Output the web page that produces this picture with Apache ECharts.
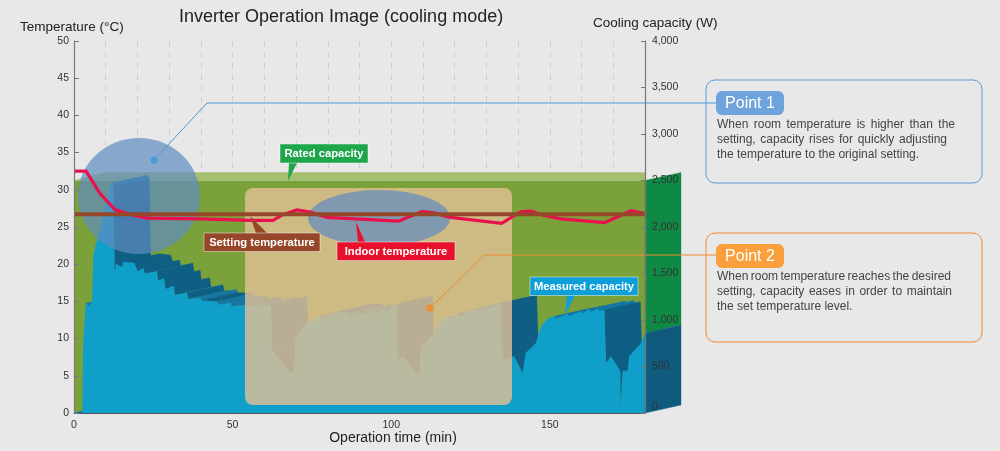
<!DOCTYPE html>
<html>
<head>
<meta charset="utf-8">
<style>
  html, body { margin: 0; padding: 0; background: #e8e8e8; }
  #chart { width: 1000px; height: 451px; }
</style>
<script src="https://cdn.jsdelivr.net/npm/echarts@6/dist/echarts.min.js"></script>
</head>
<body>
<div id="chart"></div>
<script>
  const xTicks = [0, 50, 100, 150]
  const ratedTimes = [0, 180]
  const ratedWatts = [2500, 2500]
  const settingTimes = [0, 180]
  const settingTemps = [26.7, 26.7]
  const indoorTimes = [0, 3.8, 8.2, 13, 18.7, 23, 40, 55.6, 62.7, 66, 70.3, 74.5, 79.8, 84, 102.4, 109.8, 113.4, 118.7, 134.8, 140.8, 144, 148, 153.4, 167.4, 175.6, 180]
  const indoorTemps = [32.5, 32.5, 29.5, 27.3, 26.6, 26.2, 26.1, 25.9, 25.9, 26.7, 27.3, 27, 26.3, 26.2, 25.8, 27.1, 26.9, 26.3, 25.5, 27.05, 27.15, 26.6, 26.1, 25.6, 27.2, 26.8]
  const measuredTimes = [
    0, 2.6, 2.9, 3.7, 4.6, 5.7, 6.1, 6.7, 8.2, 9.8, 11.6, 12.4,
    12.8, 13.3, 15.2, 15.5, 19.1, 20, 21.9, 22.3, 26.1, 26.5, 28.4, 28.8, 31.4, 31.8,
    35.6, 36, 39.8, 40.2, 45.1, 45.5, 49.3, 49.7, 54, 54.5, 58.7, 59.3, 62.1, 62.4,
    64, 68.2, 69.3, 69.8, 73.5, 77.7, 78.2, 81.9, 82.4, 84,
    86.1, 86.6, 89.3, 89.8, 94.5, 95.1, 98.2, 98.7, 101.7, 102.1, 104, 108.7, 109.3,
    113.3, 115.6, 117.7, 118.2, 120.8, 121.4, 126.1, 126.6, 130.3, 130.8, 134.5, 135.1,
    138.7, 141.4, 142.4, 145.6, 147.2, 149.5, 151.4, 151.9, 155.6, 156.1, 159.8, 160.3,
    162.4, 162.9, 165.1, 165.6, 167.2, 167.7, 169.3, 172.2, 172.3, 172.9, 174.5, 175, 178.7, 180,
  ]
  const measuredWatts = [
    0, 0, 750, 1180, 1150, 1195, 1685, 1790, 1970, 2185, 2470, 2435,
    1523, 1605, 1569, 1627, 1612, 1523, 1559, 1498, 1523, 1426, 1448, 1333, 1369, 1268,
    1290, 1225, 1240, 1211, 1200, 1164, 1182, 1147, 1161, 1132, 1164, 1136, 1164, 681,
    609, 437, 437, 824, 967, 1039, 1010, 1082, 1053, 1093,
    1075, 1039, 1082, 1046, 1104, 1068, 1125, 1089, 1175, 573, 609, 394, 717,
    853, 996, 1032, 1003, 1068, 1032, 1118, 1082, 1147, 1111, 1182, 573,
    609, 430, 645, 752, 932, 1021, 1039, 1010, 1068, 1039, 1093, 1068,
    1118, 1082, 1125, 1093, 1111, 537, 610, 450, 70, 450, 450, 610, 750, 860,
  ]

  const pairs = (xs, ys) => xs.map((x, i) => [x, ys[i]])

  // offset of the 3D extrusion on screen
  const depthX = 36
  const depthY = -8

  const polygon = (points, fill) => ({
    type: 'polygon',
    shape: { points },
    style: { fill, stroke: fill, lineWidth: 0.4 },
  })
  const shifted = (p) => [p[0] + depthX, p[1] + depthY]

  const renderBand = (params, api) => {
    if (params.dataIndex !== 0) return null
    const a = api.coord([ratedTimes[0], ratedWatts[0]])
    const b = api.coord([ratedTimes[1], ratedWatts[1]])
    return polygon([a, [a[0] + 32, a[1] + depthY], [b[0], b[1] + depthY], b], '#a4c06e')
  }

  const renderRibbon = (params, api) => {
    const i = params.dataIndex
    if (i >= measuredTimes.length - 1) return null
    const p = api.coord([measuredTimes[i], measuredWatts[i]])
    const q = api.coord([measuredTimes[i + 1], measuredWatts[i + 1]])
    const sx = q[0] - p[0]
    const sy = q[1] - p[1]
    if (sx * depthY - sy * depthX >= 0) return null
    // big drops and long falls are the dark faces, small teeth keep the lighter colour
    const dark = sy > 4 || (sy > 0 && sx > 3)
    return polygon([p, q, shifted(q), shifted(p)], dark ? '#0f5f85' : '#1476a3')
  }

  const renderSide = (params, api) => {
    if (params.dataIndex !== 0) return null
    const end = measuredTimes.length - 1
    const top = api.coord([ratedTimes[1], ratedWatts[1]])
    const mid = api.coord([measuredTimes[end], measuredWatts[end]])
    const low = api.coord([measuredTimes[end], 0])
    return {
      type: 'group',
      children: [
        polygon([top, shifted(top), shifted(mid), mid], '#0f8a45'),
        polygon([mid, shifted(mid), shifted(low), low], '#0f5a7d'),
      ],
    }
  }

  const font = 'Liberation Sans, Arial, sans-serif'
  const text = (x, y, str, size, fill, weight, align) => ({
    type: 'text',
    z: 7,
    silent: true,
    style: {
      x,
      y,
      text: str,
      fill,
      font: `${weight || 'normal'} ${size}px ${font}`,
      textAlign: align || 'left',
      textVerticalAlign: 'middle',
    },
  })

  // the note paragraphs in the picture are justified, so words get placed one by one
  const measure = document.createElement('canvas').getContext('2d')
  const justified = (x, y, str, width, size, fill) => {
    if (!width) return [text(x, y, str, size, fill)]
    measure.font = `${size}px ${font}`
    const words = str.split(' ')
    const used = words.reduce((sum, w) => sum + measure.measureText(w).width, 0)
    const gap = (width - used) / (words.length - 1)
    let cur = x
    return words.map((w) => {
      const el = text(cur, y, w, size, fill)
      cur += measure.measureText(w).width + gap
      return el
    })
  }

  const tag = (x, y, w, h, fill, str, tip) => [
    { type: 'polygon', z: 6, silent: true, shape: { points: tip }, style: { fill } },
    { type: 'rect', z: 6, silent: true, shape: { x, y, width: w, height: h }, style: { fill, stroke: 'rgba(255,255,255,0.45)', lineWidth: 1 } },
    text(x + w / 2, y + h / 2 + 0.5, str, 11.2, '#fff', 'bold', 'center'),
  ]
  const point = (y, h, stroke, pill, label, lines, widths, lineY) => [
    { type: 'rect', z: 6, silent: true, shape: { x: 706, y, width: 276, height: h, r: 9 }, style: { fill: 'none', stroke, lineWidth: 1 } },
    { type: 'rect', z: 6, silent: true, shape: { x: 716, y: y + 11, width: 68, height: 24, r: 6 }, style: { fill: pill } },
    text(750, y + 23.5, label, 16, '#fff', 'normal', 'center'),
    ...lines.flatMap((l, i) => justified(717, lineY + i * 14.7, l, widths[i], 12, '#444')),
  ]
  const leader = (dot, knee, y, stroke) => [
    { type: 'polyline', z: 6, silent: true, shape: { points: [dot, knee, [716, y]] }, style: { fill: 'none', stroke, lineWidth: 1 } },
    { type: 'circle', z: 6, silent: true, shape: { cx: dot[0], cy: dot[1], r: 3.5 }, style: { fill: stroke } },
  ]

  const chart = echarts.init(document.getElementById('chart'))
  chart.setOption({
    animation: false,
    backgroundColor: '#e8e8e8',
    grid: { left: 74, right: 355, top: 41, bottom: 38 },
    xAxis: {
      type: 'value',
      min: 0,
      max: 180,
      interval: 10,
      axisLine: { onZero: false, lineStyle: { color: '#555', width: 1.2 } },
      axisTick: { show: false },
      axisLabel: {
        color: '#333',
        fontSize: 10.5,
        fontFamily: font,
        margin: 7,
        formatter: (v) => (xTicks.includes(v) ? String(v) : ''),
      },
      splitLine: { show: true, lineStyle: { color: '#d2d2d2', type: [6, 5], width: 1 } },
    },
    yAxis: [
      {
        type: 'value',
        min: 0,
        max: 50,
        interval: 5,
        z: 8,
        axisLine: { show: true, lineStyle: { color: '#777', width: 1.2 } },
        axisTick: { show: true, inside: true, length: 5, lineStyle: { color: '#777' } },
        axisLabel: { color: '#333', fontSize: 10.5, fontFamily: font, margin: 5 },
        splitLine: { show: false },
      },
      {
        type: 'value',
        min: 0,
        max: 4000,
        interval: 500,
        position: 'right',
        z: 8,
        axisLine: { show: true, lineStyle: { color: '#777', width: 1.2 } },
        axisTick: { show: true, inside: true, length: 4, lineStyle: { color: '#777' } },
        axisLabel: {
          color: '#333',
          fontSize: 10.5,
          fontFamily: font,
          margin: 7,
          formatter: (v) => (v === 0 ? '{zero|0}' : v.toLocaleString('en-US')),
          rich: { zero: { color: '#333', fontSize: 10.5, fontFamily: font, padding: [0, 0, 12, 0] } },
        },
        splitLine: { show: false },
      },
    ],
    series: [
      {
        name: 'Rated capacity',
        type: 'line',
        yAxisIndex: 1,
        z: 1,
        showSymbol: false,
        lineStyle: { width: 0 },
        areaStyle: { color: '#7ba23a', opacity: 1 },
        data: pairs(ratedTimes, ratedWatts),
      },
      {
        name: 'Rated top',
        type: 'custom',
        yAxisIndex: 1,
        z: 1,
        renderItem: renderBand,
        data: pairs(ratedTimes, ratedWatts),
      },
      {
        name: 'Measured depth',
        type: 'custom',
        yAxisIndex: 1,
        z: 2,
        renderItem: renderRibbon,
        data: pairs(measuredTimes, measuredWatts),
      },
      {
        name: 'Measured capacity',
        type: 'line',
        yAxisIndex: 1,
        z: 3,
        showSymbol: false,
        lineStyle: { width: 0 },
        areaStyle: { color: '#0f9fc9', opacity: 1 },
        data: pairs(measuredTimes, measuredWatts),
      },
      {
        name: 'Side',
        type: 'custom',
        yAxisIndex: 1,
        z: 3,
        renderItem: renderSide,
        data: pairs(ratedTimes, ratedWatts),
      },
      {
        name: 'Indoor temperature',
        type: 'line',
        z: 5,
        showSymbol: false,
        lineStyle: { color: '#e8114e', width: 3.2, join: 'miter' },
        data: pairs(indoorTimes, indoorTemps),
      },
      {
        name: 'Setting temperature',
        type: 'line',
        z: 5,
        showSymbol: false,
        lineStyle: { color: '#96472a', width: 4 },
        data: pairs(settingTimes, settingTemps),
      },
    ],
    graphic: {
      elements: [
        // overlays
        { type: 'rect', z: 4, silent: true, shape: { x: 245, y: 188, width: 267, height: 217, r: 8 }, style: { fill: 'rgba(228,192,150,0.8)' } },
        { type: 'ellipse', z: 4, silent: true, shape: { cx: 139, cy: 196, rx: 61, ry: 58 }, style: { fill: 'rgba(96,139,193,0.7)' } },
        { type: 'ellipse', z: 4, silent: true, shape: { cx: 379, cy: 218, rx: 71, ry: 28 }, style: { fill: 'rgba(96,139,193,0.7)' } },
        // titles
        text(179, 17, 'Inverter Operation Image (cooling mode)', 18, '#222'),
        text(20, 27, 'Temperature (°C)', 13.5, '#222'),
        text(593, 23, 'Cooling capacity (W)', 13.5, '#222'),
        text(393, 438, 'Operation time (min)', 14, '#222', 'normal', 'center'),
        // labels
        ...tag(280, 144, 88, 19, '#1fa64a', 'Rated capacity', [[289, 163], [297, 163], [288, 181]]),
        ...tag(204, 233, 116, 18.5, '#96472a', 'Setting temperature', [[250, 216], [256, 233], [267, 233]]),
        ...tag(337, 242, 118, 18.5, '#e8112d', 'Indoor temperature', [[356, 222], [358, 242], [365, 242]]),
        ...tag(530, 277, 108, 18.5, '#0e9fd8', 'Measured capacity', [[567, 295], [575, 295], [565, 315]]),
        // callouts
        ...leader([154, 160], [207, 103], 103, '#4b9ad8'),
        ...leader([430, 308], [484, 255], 255, '#f08c2e'),
        ...point(80, 103, '#5b9bd5', '#6fa3dc', 'Point 1', [
          'When room temperature is higher than the',
          'setting, capacity rises for quickly adjusting',
          'the temperature to the original setting.',
        ], [238, 230, 0], 125),
        ...point(233, 109, '#f08c3a', '#f9a03c', 'Point 2', [
          'When room temperature reaches the desired',
          'setting, capacity eases in order to maintain',
          'the set temperature level.',
        ], [234, 235, 0], 277),
      ],
    },
  })
</script>
</body>
</html>
